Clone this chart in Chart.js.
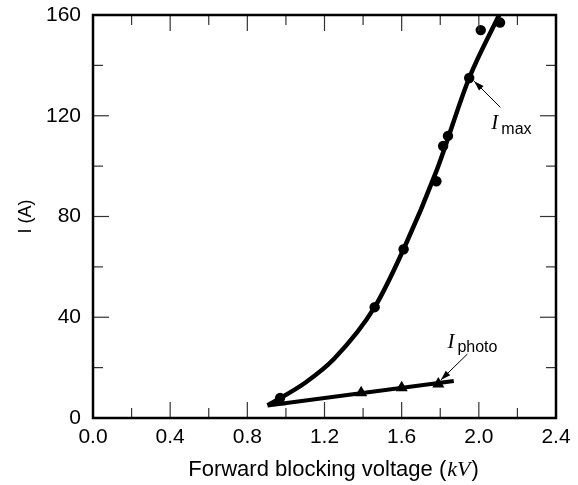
<!DOCTYPE html>
<html><head><meta charset="utf-8">
<script src="https://cdn.jsdelivr.net/npm/chart.js@4.4.0/dist/chart.umd.min.js"></script>
<style>html,body{margin:0;padding:0;background:#fff}</style>
</head><body>
<canvas id="c" width="578" height="485" style="display:block;width:578px;height:485px"></canvas>
<script>
// Measured I_max points (kV, A)
const imaxV = [0.97, 1.46, 1.61, 1.78, 1.815, 1.84, 1.95, 2.01, 2.11];
const imaxI = [8, 44, 67, 94, 108, 112, 135, 154, 157];
// Measured I_photo points
const photoV = [0.97, 1.39, 1.60, 1.79];
const photoI = [6.5, 10, 12, 13.5];
// Fitted curves
const imaxFitV = [0.905, 1.10, 1.25, 1.46, 1.61, 1.78, 1.95, 2.105];
const imaxFitI = [5, 14, 23.5, 44, 67, 98, 135, 160];
const photoFitV = [0.905, 1.87];
const photoFitI = [5, 14.7];
// Ticks
const xTicks = [0, 0.4, 0.8, 1.2, 1.6, 2.0, 2.4];
const xMinor = [0.2, 0.6, 1.0, 1.4, 1.8, 2.2];
const yTicks = [0, 40, 80, 120, 160];
const yMinor = [20, 60, 100, 140];

const zip = (a, b) => a.map((v, i) => ({x: v, y: b[i]}));
const SANS = '"Liberation Sans", Arial, Helvetica, sans-serif';
const SERIF = '"Liberation Serif", "Times New Roman", serif';

const annotations = [
  {label: 'max', ix: 2.065, iy: 114.9, sy: 112.9, tail: [2.112, 123.3], tip: [1.976, 133.7]},
  {label: 'photo', ix: 1.837, iy: 27.8, sy: 26.2, tail: [1.941, 25.4], tip: [1.803, 15.1]}
];

const framePlugin = {
  id: 'frame',
  afterDraw(chart) {
    const {ctx, chartArea: a, scales: {x, y}} = chart;
    ctx.save();
    ctx.strokeStyle = '#333';
    ctx.lineWidth = 1.2;
    const seg = (x1, y1, x2, y2) => { ctx.beginPath(); ctx.moveTo(x1, y1); ctx.lineTo(x2, y2); ctx.stroke(); };
    const xt = (vals, len) => vals.forEach(v => { const p = x.getPixelForValue(v); seg(p, a.bottom, p, a.bottom - len); seg(p, a.top, p, a.top + len); });
    const yt = (vals, len) => vals.forEach(v => { const p = y.getPixelForValue(v); seg(a.left, p, a.left + len, p); seg(a.right, p, a.right - len, p); });
    xt(xTicks, 16); xt(xMinor, 10); yt(yTicks, 16); yt(yMinor, 10);
    ctx.strokeStyle = '#000';
    ctx.lineWidth = 2.5;
    ctx.strokeRect(a.left, a.top, a.right - a.left, a.bottom - a.top);

    // annotations
    ctx.fillStyle = '#000';
    ctx.textBaseline = 'alphabetic';
    ctx.textAlign = 'left';
    annotations.forEach(an => {
      const ix = x.getPixelForValue(an.ix), iy = y.getPixelForValue(an.iy);
      ctx.font = 'italic 21px ' + SERIF;
      ctx.fillText('I', ix, iy);
      const w = ctx.measureText('I').width;
      ctx.font = '16px ' + SANS;
      ctx.fillText(an.label, ix + w + 3, y.getPixelForValue(an.sy));
      const tx = x.getPixelForValue(an.tail[0]), ty = y.getPixelForValue(an.tail[1]);
      const hx = x.getPixelForValue(an.tip[0]), hy = y.getPixelForValue(an.tip[1]);
      ctx.strokeStyle = '#000'; ctx.lineWidth = 1;
      seg(tx, ty, hx, hy);
      const ang = Math.atan2(hy - ty, hx - tx), L = 10, W = 3.2;
      ctx.beginPath();
      ctx.moveTo(hx, hy);
      ctx.lineTo(hx - L * Math.cos(ang) + W * Math.sin(ang), hy - L * Math.sin(ang) - W * Math.cos(ang));
      ctx.lineTo(hx - L * Math.cos(ang) - W * Math.sin(ang), hy - L * Math.sin(ang) + W * Math.cos(ang));
      ctx.closePath(); ctx.fill();
    });

    // x axis title with italic kV
    const p1 = 'Forward blocking voltage (', p2 = 'kV', p3 = ')';
    const FS = 22;
    ctx.font = FS + 'px ' + SANS; const w1 = ctx.measureText(p1).width, w3 = ctx.measureText(p3).width;
    ctx.font = 'italic ' + FS + 'px ' + SERIF; const w2 = ctx.measureText(p2).width;
    const total = w1 + w2 + w3 + 2;
    let sx = 333.5 - total / 2;
    const by = 476;
    ctx.font = FS + 'px ' + SANS; ctx.fillText(p1, sx, by); sx += w1;
    ctx.font = 'italic ' + FS + 'px ' + SERIF; ctx.fillText(p2, sx + 1, by); sx += w2 + 2;
    ctx.font = FS + 'px ' + SANS; ctx.fillText(p3, sx, by);
    ctx.restore();
  }
};

new Chart(document.getElementById('c'), {
  type: 'scatter',
  data: {datasets: [
    {data: zip(imaxFitV, imaxFitI), showLine: true, borderColor: '#000', borderWidth: 4.5, pointRadius: 0, cubicInterpolationMode: 'monotone', fill: false},
    {data: zip(photoFitV, photoFitI), showLine: true, borderColor: '#000', borderWidth: 4, pointRadius: 0, fill: false},
    {data: zip(imaxV, imaxI), pointStyle: 'circle', pointRadius: 5.2, backgroundColor: '#000', borderColor: '#000', borderWidth: 0},
    {data: zip(photoV, photoI), pointStyle: 'triangle', pointRadius: 7, backgroundColor: '#000', borderColor: '#000', borderWidth: 0}
  ]},
  options: {
    responsive: false, animation: false, devicePixelRatio: 1,
    layout: {padding: {top: 15, right: 22, left: 0, bottom: 0}},
    plugins: {legend: {display: false}, tooltip: {enabled: false}},
    scales: {
      x: {
        type: 'linear', min: 0, max: 2.4,
        afterBuildTicks: s => { s.ticks = xTicks.map(v => ({value: v})); },
        afterFit: s => { s.height = 67; s.paddingLeft = 0; s.paddingRight = 0; },
        ticks: {font: {family: SANS, size: 21}, color: '#000', padding: 7, maxRotation: 0, autoSkip: false, callback: v => Number(v).toFixed(1)},
        grid: {display: false, drawTicks: false},
        border: {display: false}
      },
      y: {
        type: 'linear', min: 0, max: 160,
        afterBuildTicks: s => { s.ticks = yTicks.map(v => ({value: v})); },
        afterFit: s => { s.width = 93; s.paddingTop = 0; s.paddingBottom = 0; },
        ticks: {font: {family: SANS, size: 21}, color: '#000', padding: 12, autoSkip: false, callback: v => String(v)},
        title: {display: true, text: 'I (A)', font: {family: SANS, size: 18}, color: '#000', padding: {top: 15, bottom: 0}},
        grid: {display: false, drawTicks: false},
        border: {display: false}
      }
    }
  },
  plugins: [framePlugin]
});
</script>
</body></html>
